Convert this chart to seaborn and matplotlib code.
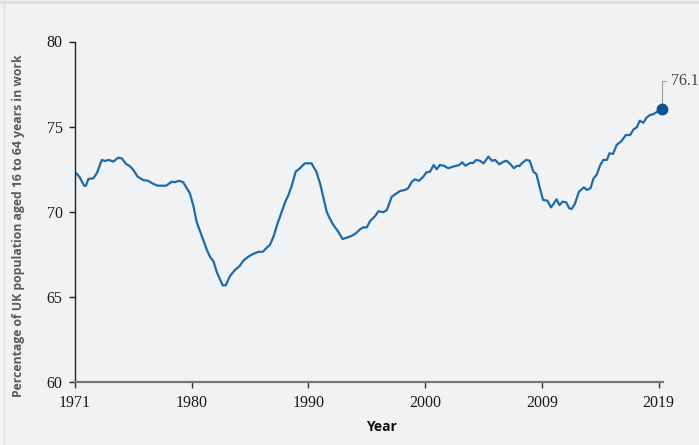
import matplotlib
matplotlib.use("Agg")
import matplotlib.pyplot as plt
import seaborn as sns
import pandas as pd
from matplotlib.lines import Line2D

years = [1971.0, 1971.1, 1971.35, 1971.75, 1971.9, 1972.1, 1972.5, 1972.8, 1973.2, 1973.45,
         1973.8, 1974.15, 1974.55, 1974.85, 1975.2, 1975.5, 1975.8, 1976.15, 1976.6, 1977.0,
         1977.45, 1977.8, 1978.5, 1978.95, 1979.2, 1979.55, 1979.9, 1980.2, 1980.45, 1980.75,
         1981.0, 1981.3, 1981.55, 1981.85, 1982.1, 1982.4, 1982.65, 1982.95, 1983.15, 1983.4,
         1983.75, 1984.15, 1984.55, 1984.85, 1985.25, 1985.65, 1986.1, 1986.45, 1986.8, 1987.05,
         1987.35, 1987.65, 1988.0, 1988.3, 1988.55, 1988.8, 1989.15, 1989.5, 1989.9, 1990.45,
         1990.85, 1991.15, 1991.35, 1991.7, 1991.95, 1992.25, 1992.65, 1993.0, 1993.35, 1993.75,
         1994.1, 1994.45, 1994.7, 1995.0, 1995.25, 1995.7, 1995.95, 1996.35, 1996.65, 1997.05,
         1997.45, 1997.75, 1998.15, 1998.4, 1998.7, 1998.95, 1999.3, 1999.65, 1999.9, 2000.2,
         2000.5, 2000.75, 2001.0, 2001.35, 2001.7, 2001.95, 2002.25, 2002.6, 2002.85, 2003.1,
         2003.5, 2003.75, 2004.0, 2004.3, 2004.6, 2005.0, 2005.3, 2005.55, 2005.9, 2006.25,
         2006.5, 2006.8, 2007.1, 2007.35, 2007.55, 2007.75, 2008.1, 2008.4, 2008.7, 2008.95,
         2009.2, 2009.5, 2009.85, 2010.15, 2010.35, 2010.6, 2010.85, 2011.1, 2011.4, 2011.65,
         2011.85, 2012.1, 2012.45, 2012.85, 2013.1, 2013.4, 2013.65, 2013.9, 2014.2, 2014.45,
         2014.75, 2014.95, 2015.25, 2015.55, 2015.95, 2016.3, 2016.65, 2016.95, 2017.2, 2017.45,
         2017.75, 2018.0, 2018.3, 2018.55, 2018.9, 2019.3]

employment = [72.3, 72.27, 72.07, 71.54, 71.54, 71.93, 71.97, 72.27, 73.05, 72.99,
              73.05, 72.95, 73.18, 73.14, 72.81, 72.69, 72.46, 72.07, 71.87, 71.83,
              71.64, 71.54, 71.54, 71.77, 71.74, 71.83, 71.74, 71.39, 71.09, 70.31,
              69.42, 68.84, 68.35, 67.76, 67.37, 67.08, 66.49, 66.0, 65.69, 65.69,
              66.24, 66.59, 66.83, 67.14, 67.37, 67.53, 67.66, 67.66, 67.92, 68.08,
              68.6, 69.3, 70.01, 70.6, 70.99, 71.48, 72.36, 72.56, 72.85, 72.85,
              72.36, 71.68, 71.09, 70.01, 69.62, 69.23, 68.84, 68.41, 68.49, 68.59,
              68.74, 68.98, 69.09, 69.09, 69.44, 69.77, 70.04, 69.98, 70.11, 70.89,
              71.09, 71.23, 71.29, 71.39, 71.77, 71.91, 71.83, 72.07, 72.32, 72.36,
              72.75, 72.5, 72.75, 72.71, 72.56, 72.62, 72.69, 72.75, 72.91, 72.71,
              72.87, 72.87, 73.05, 73.0, 72.85, 73.24, 73.0, 73.05, 72.79, 72.95,
              73.0, 72.81, 72.56, 72.71, 72.69, 72.85, 73.05, 73.0, 72.36, 72.22,
              71.48, 70.7, 70.66, 70.27, 70.46, 70.74, 70.4, 70.6, 70.56, 70.21,
              70.17, 70.45, 71.19, 71.44, 71.29, 71.39, 71.97, 72.17, 72.75, 73.05,
              73.05, 73.44, 73.4, 73.93, 74.16, 74.51, 74.51, 74.85, 74.96, 75.35,
              75.23, 75.53, 75.69, 75.73, 75.88, 76.05]

tick_labels = ["1971", "1980", "1990", "2000", "2009", "2019"]
y_ticks = [60, 65, 70, 75, 80]
last_label = "76.1"

df = pd.DataFrame({"Year": years, "Employment": employment})

bg = "#f1f2f4"
sns.set_theme(style="white")
plt.rcParams["font.family"] = ["DejaVu Sans"]

fig = plt.figure(figsize=(6.99, 4.45), dpi=100, facecolor=bg)
ax = fig.add_axes([75 / 699, 1 - 382.3 / 445, 588 / 699, (382.3 - 41.5) / 445])
ax.set_facecolor(bg)

sns.lineplot(data=df, x="Year", y="Employment", ax=ax, color="#1f6aa8", linewidth=1.6)
ax.plot([years[-1]], [employment[-1]], "o", color="#0b5290", markersize=7.5,
        zorder=5, clip_on=False)

ax.set_xlim(1971, 2019.36)
ax.set_ylim(60, 80)

tick_pos = [1971 + i * 9.6 for i in range(len(tick_labels))]
ax.set_xticks(tick_pos)
ax.set_xticklabels(tick_labels)
ax.set_yticks(y_ticks)
ax.set_yticklabels([str(v) for v in y_ticks])

for lbl in ax.get_xticklabels() + ax.get_yticklabels():
    lbl.set_fontfamily("Liberation Serif")
    lbl.set_fontsize(11.5)
    lbl.set_color("#1a1a1a")

ax.tick_params(axis="y", direction="out", length=4, width=1, color="#222222", pad=5, left=True)
ax.tick_params(axis="x", direction="out", length=4, width=1, color="#333333", pad=5, bottom=True)

for s in ["top", "right"]:
    ax.spines[s].set_visible(False)
ax.spines["left"].set_color("#222222")
ax.spines["left"].set_linewidth(1.0)
ax.spines["bottom"].set_color("#777777")
ax.spines["bottom"].set_linewidth(1.6)

ax.set_xlabel("Year", fontfamily="Open Sans", fontweight="bold", fontsize=10, color="#111111")
ax.xaxis.set_label_coords((381 - 75) / 588, -(427 - 382.3) / (382.3 - 41.5))
ax.xaxis.label.set_va("center")
ax.set_ylabel("Percentage of UK population aged 16 to 64 years in work",
              fontfamily="Open Sans", fontweight="bold", fontsize=8.8, color="#5a5a5a")
ax.yaxis.set_label_coords(-(75 - 19) / 588, (382.3 - 226) / (382.3 - 41.5))
ax.yaxis.label.set_va("center")

# annotation for the last value
ax.annotate(last_label, xy=(years[-1], employment[-1]), xytext=(6, 20),
            textcoords="offset points", fontfamily="Liberation Serif", fontsize=11.5,
            color="#444444", va="center", ha="left", annotation_clip=False,
            arrowprops=dict(arrowstyle="-", color="#999999", lw=0.8,
                            connectionstyle="angle,angleA=0,angleB=90,rad=0",
                            shrinkA=1, shrinkB=3))

# light frame on the top and left
fig.add_artist(Line2D([0, 1], [1 - 1.5 / 445, 1 - 1.5 / 445], transform=fig.transFigure,
                      color="#dedfe1", linewidth=2.2))
fig.add_artist(Line2D([3.5 / 699, 3.5 / 699], [0, 1], transform=fig.transFigure,
                      color="#dedfe1", linewidth=1.0))

fig.savefig("out.png", dpi=100, facecolor=bg)
